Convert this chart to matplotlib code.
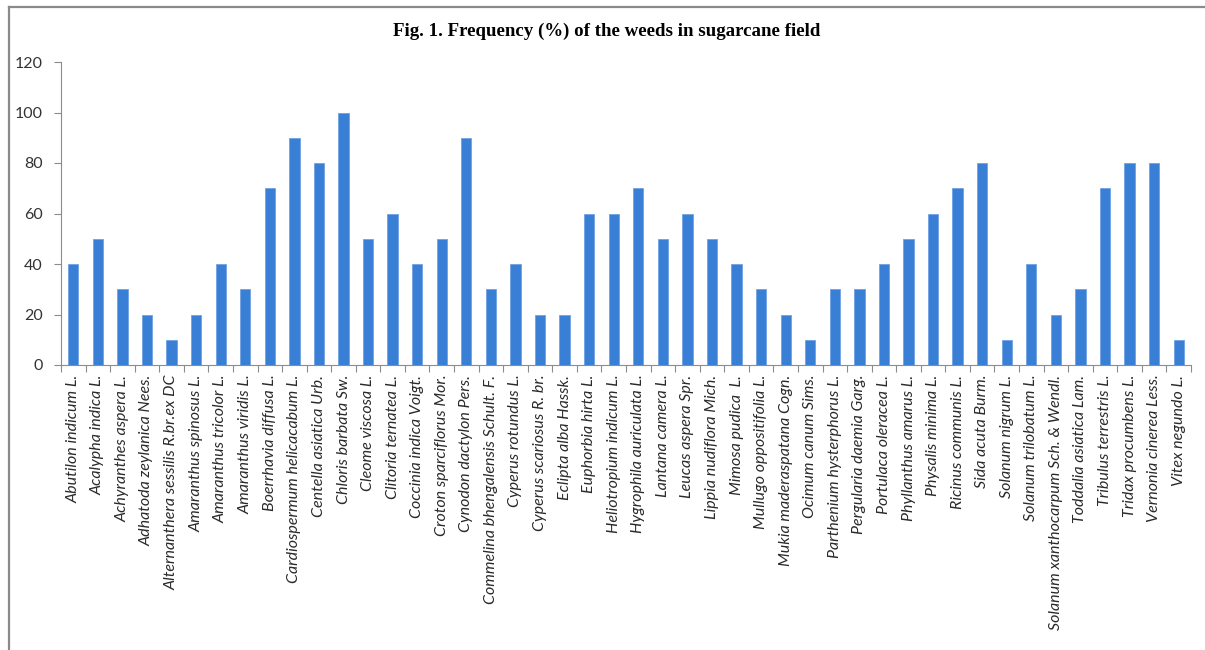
import matplotlib
matplotlib.use("Agg")
import matplotlib.pyplot as plt
from matplotlib.lines import Line2D
import numpy as np

species = [
    "Abutilon indicum L.", "Acalypha indica L.", "Achyranthes aspera L.",
    "Adhatoda zeylanica Nees.", "Alternanthera sessilis R.br.ex DC",
    "Amaranthus spinosus L.", "Amaranthus tricolor L.", "Amaranthus viridis L.",
    "Boerrhavia diffusa L.", "Cardiospermum helicacabum L.",
    "Centella asiatica Urb.", "Chloris barbata Sw.", "Cleome viscosa L.",
    "Clitoria ternatea L.", "Coccinia indica Voigt.", "Croton sparciflorus Mor.",
    "Cynodon dactylon Pers.", "Commelina bhengalensis Schult. F.",
    "Cyperus rotundus L.", "Cyperus scariosus R. br.", "Eclipta alba Hassk.",
    "Euphorbia hirta L.", "Heliotropium indicum L.", "Hygrophila auriculata L.",
    "Lantana camera L.", "Leucas aspera Spr.", "Lippia nudiflora Mich.",
    "Mimosa pudica  L.", "Mullugo oppositifolia L.", "Mukia maderaspatana Cogn.",
    "Ocimum canum Sims.", "Parthenium hysterphorus L.", "Pergularia daemia Garg.",
    "Portulaca oleracea L.", "Phyllanthus amarus L.", "Physalis minima L.",
    "Ricinus communis L.", "Sida acuta Burm.", "Solanum nigrum L.",
    "Solanum trilobatum L.", "Solanum xanthocarpum Sch. & Wendl.",
    "Toddalia asiatica Lam.", "Tribulus terrestris L.", "Tridax procumbens L.",
    "Vernonia cinerea Less.", "Vitex negundo L.",
]
frequency = [
    40, 50, 30, 20, 10, 20, 40, 30, 70, 90,
    80, 100, 50, 60, 40, 50, 90, 30, 40, 20,
    20, 60, 60, 70, 50, 60, 50, 40, 30, 20,
    10, 30, 30, 40, 50, 60, 70, 80, 10, 40,
    20, 30, 70, 80, 80, 10,
]
y_ticks = [0, 20, 40, 60, 80, 100, 120]

W, H = 1205, 650
fig = plt.figure(figsize=(W / 100, H / 100), dpi=100)
fig.patch.set_facecolor("white")

ax = fig.add_axes([61 / W, 1 - 365 / H, (1191 - 61) / W, (365 - 62) / H])

x = np.arange(len(species))
ax.bar(x, frequency, width=0.42, color="#3a7fd6", edgecolor="#6fa3e3",
       linewidth=0.6, zorder=3)

ax.set_xlim(-0.5, len(species) - 0.5)
ax.set_ylim(0, 120)
ax.set_yticks(y_ticks)
ax.set_yticklabels([str(v) for v in y_ticks], fontsize=11.5, color="#333333",
                   family="Lato")

ax.set_xticks(x)
ax.set_xticklabels(species, rotation=90, ha="center", va="top",
                   fontsize=11.5, style="italic", family="Lato",
                   color="#2a2a2a")
ax.set_xticks(np.arange(len(species) + 1) - 0.5, minor=True)
ax.tick_params(axis="x", which="major", length=0, pad=7)
ax.tick_params(axis="x", which="minor", length=5, color="#8c8c8c", width=0.8)
ax.tick_params(axis="y", length=5, color="#8c8c8c", width=0.8, pad=8)

for side in ("top", "right"):
    ax.spines[side].set_visible(False)
for side in ("left", "bottom"):
    ax.spines[side].set_color("#8c8c8c")
    ax.spines[side].set_linewidth(0.8)

fig.text(607 / W, 1 - 31 / H, "Fig. 1. Frequency (%) of the weeds in sugarcane field",
         ha="center", va="center", fontsize=13.6, fontweight="bold",
         family="Liberation Serif")

# outer chart frame (top and left edges)
frame_color = "#8a8a8a"
fig.add_artist(Line2D([8.5 / W, 1.0], [1 - 6.5 / H, 1 - 6.5 / H],
                      transform=fig.transFigure, color=frame_color, lw=1.6))
fig.add_artist(Line2D([8.5 / W, 8.5 / W], [0.0, 1 - 6.5 / H],
                      transform=fig.transFigure, color=frame_color, lw=1.6))

fig.savefig("out.png", dpi=100, facecolor="white")
